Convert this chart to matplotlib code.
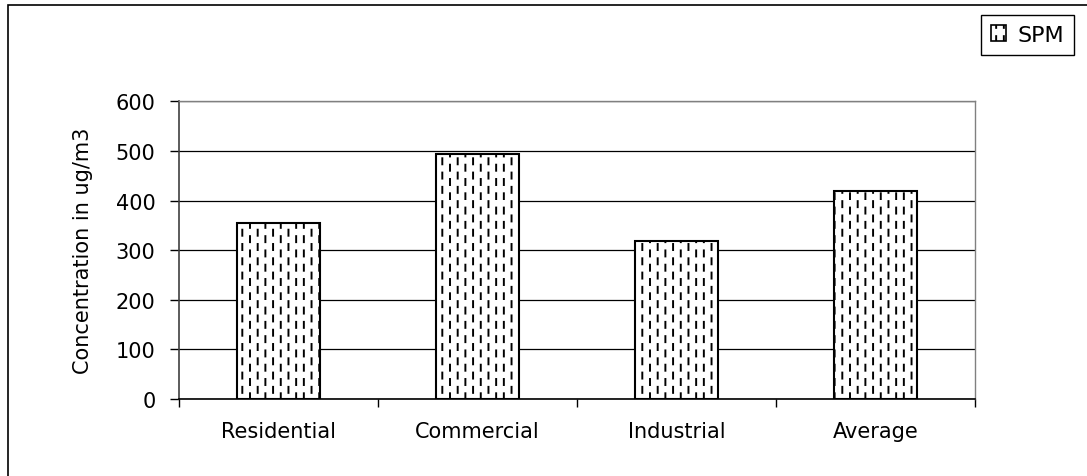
import numpy as np
import matplotlib
matplotlib.use("Agg")
import matplotlib.pyplot as plt
import matplotlib.hatch as mhatch
from matplotlib.patches import Rectangle, Patch
from matplotlib.path import Path

# --- data ---
categories = ["Residential", "Commercial", "Industrial", "Average"]
spm_values = [355, 494, 318, 420]
series_name = "SPM"
y_ticks = [0, 100, 200, 300, 400, 500, 600]
y_label = "Concentration in ug/m3"


# '|' hatch drawn as staggered short vertical dashes instead of full lines
class DashedVerticalHatch(mhatch.HatchPatternBase):
    def __init__(self, hatch, density):
        n = hatch.count('|')
        self.cols = 13 * n
        self.rows = 7 * n
        self.num_vertices = self.cols * self.rows * 2

    def set_vertices_and_codes(self, vertices, codes):
        k = 0
        for c in range(self.cols):
            x = (c + 0.5) / self.cols
            shift = 0.5 if c % 2 else 0.05
            for r in range(self.rows):
                y0 = (r + shift) / self.rows
                y1 = y0 + 0.42 / self.rows
                vertices[k] = (x, y0)
                vertices[k + 1] = (x, y1)
                codes[k] = Path.MOVETO
                codes[k + 1] = Path.LINETO
                k += 2


mhatch._hatch_types = [h for h in mhatch._hatch_types if h is not mhatch.VerticalHatch]
mhatch._hatch_types.append(DashedVerticalHatch)

plt.rcParams['font.family'] = ['DejaVu Sans']
plt.rcParams['hatch.linewidth'] = 1.4
plt.rcParams['hatch.color'] = '#1a1a1a'

W, H = 1087, 477
fig = plt.figure(figsize=(W / 100, H / 100), dpi=100)
ax = fig.add_axes([179 / W, 1 - 400 / H, (975 - 179) / W, (400 - 102.3) / H])

x = np.arange(len(categories))
ax.bar(x, spm_values, width=0.42, color='white', edgecolor='black',
       linewidth=1.5, hatch='|', zorder=3)

ax.set_xlim(-0.5, len(categories) - 0.5)
ax.set_ylim(0, 600)
ax.set_yticks(y_ticks)
ax.set_xticks(x)
ax.set_xticklabels(categories, fontsize=15)
ax.set_xticks(np.arange(len(categories) + 1) - 0.5, minor=True)
ax.tick_params(axis='x', which='major', length=0, pad=16)
ax.tick_params(axis='x', which='minor', length=6, width=1, direction='out')
ax.tick_params(axis='y', length=6.5, width=1, direction='out', pad=10.5, labelsize=15)

ax.yaxis.grid(True, color='black', linewidth=0.9, zorder=0)
ax.set_axisbelow(True)

ax.spines['bottom'].set_color('black')
ax.spines['bottom'].set_linewidth(1.2)
ax.spines['left'].set_color('#404040')
ax.spines['left'].set_linewidth(1.2)
for side in ('top', 'right'):
    ax.spines[side].set_color('#808080')
    ax.spines[side].set_linewidth(1.0)

ax.set_ylabel(y_label, fontsize=15)
ax.yaxis.set_label_coords(-0.108, 0.5)

handle = Patch(facecolor='white', edgecolor='black', hatch='|', linewidth=1.2, label=series_name)
fig.legend(handles=[handle], loc='upper right', bbox_to_anchor=(1074 / W, 1 - 16 / H),
           borderaxespad=0, fontsize=16, fancybox=False, framealpha=1,
           edgecolor='black', handlelength=0.7, handleheight=0.7,
           handletextpad=0.5, borderpad=0.45)

# outer chart frame, open to the right and bottom
fig.add_artist(Rectangle((8 / W, -0.1), 1.0, 1.1 - 6 / H, transform=fig.transFigure,
                         fill=False, edgecolor='black', linewidth=1.2, clip_on=False))

fig.savefig("out.png", dpi=100)
